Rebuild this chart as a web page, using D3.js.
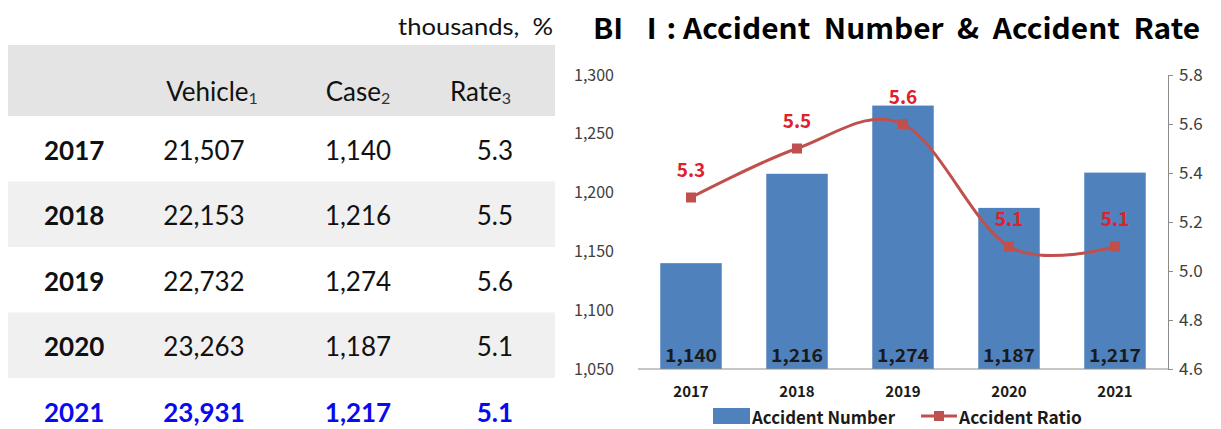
<!DOCTYPE html>
<html lang="en">
<head>
<meta charset="UTF-8">
<title>Accident Number & Accident Rate</title>
<script src="https://cdn.jsdelivr.net/npm/d3@7"></script>
<style>
    body{ margin:0; background:#fff; }
    .cell{ font-family: Lato, "Open Sans", sans-serif; font-size:26px; fill:#111; }
    .yr{ font-weight:bold; }
    .last{ fill:#0a0aee; font-weight:bold; }
    .tick text{ font-family:"Noto Sans CJK KR", "Noto Sans", sans-serif; }
</style>
</head>
<body>
<div id="root"></div>
<script>
    // ---- data ----
    const years = ["2017", "2018", "2019", "2020", "2021"]
    const vehicles = [21507, 22153, 22732, 23263, 23931]   // thousands
    const cases = [1140, 1216, 1274, 1187, 1217]
    const rates = [5.3, 5.5, 5.6, 5.1, 5.1]
    const leftTicks = [1050, 1100, 1150, 1200, 1250, 1300]
    const rightTicks = [4.6, 4.8, 5.0, 5.2, 5.4, 5.6, 5.8]
    const headers = [["Vehicle", "1"], ["Case", "2"], ["Rate", "3"]]

    const width = 1221, height = 429
    const svg = d3.select("#root").append("svg").attr("width", width).attr("height", height)

    // ---------- table (left) ----------
    const tbl = svg.append("g")
    const fmt = d3.format(",")
    const rowTop = 116, rowH = 65.5
    const colX = [44, 204, 358, 513]       // year left, vehicle mid, case mid, rate right
    const anchors = ["start", "middle", "middle", "end"]

    svg.append("text").attr("x", 553).attr("y", 35).attr("text-anchor", "end")
        .attr("textLength", 155).attr("lengthAdjust", "spacingAndGlyphs")
        .style("font-family", "Lato, sans-serif").style("font-size", "24px").style("white-space", "pre")
        .attr("fill", "#111")
        .text("thousands,  %")

    tbl.append("rect").attr("x", 8).attr("y", 45).attr("width", 547).attr("height", 71).attr("fill", "#e4e4e4")
    years.forEach((y, i) => {
        if (i % 2 == 1) {
            tbl.append("rect").attr("x", 8).attr("y", rowTop + i * rowH).attr("width", 547).attr("height", rowH).attr("fill", "#f0f0f0")
        }
    })

    const headX = [212, 358, 511]
    headers.forEach((h, i) => {
        const t = tbl.append("text").attr("class", "cell").attr("x", headX[i]).attr("y", 91)
            .attr("text-anchor", i == 2 ? "end" : "middle").attr("dominant-baseline", "central")
        t.append("tspan").text(h[0])
        t.append("tspan").attr("dy", 6).style("font-size", "16px").attr("fill", "#333").text(h[1])
    })

    years.forEach((y, i) => {
        const cy = rowTop + i * rowH + rowH / 2 + 1
        const vals = [y, fmt(vehicles[i]), fmt(cases[i]), rates[i].toFixed(1)]
        vals.forEach((v, j) => {
            tbl.append("text")
                .attr("class", "cell" + (j == 0 ? " yr" : "") + (i == years.length - 1 ? " last" : ""))
                .attr("x", colX[j]).attr("y", cy)
                .attr("text-anchor", anchors[j]).attr("dominant-baseline", "central")
                .text(v)
        })
    })

    // ---------- chart (right) ----------
    svg.append("text").attr("x", 593).attr("y", 39)
        .attr("textLength", 607).attr("lengthAdjust", "spacingAndGlyphs")
        .style("font-family", "'Noto Sans CJK KR', sans-serif").style("font-size", "28px").style("font-weight", "bold")
        .style("white-space", "pre").attr("fill", "#000")
        .text("BI  Ⅰ: Accident  Number  &  Accident  Rate")

    const plotL = 638, plotR = 1168, plotT = 75, plotB = 369

    const xScale = d3.scaleBand().domain(years).range([plotL, plotR]).paddingInner(0.42).paddingOuter(0.21)
    const yLeft = d3.scaleLinear().domain([1050, 1300]).range([plotB, plotT])
    const yRight = d3.scaleLinear().domain([4.6, 5.8]).range([plotB, plotT])

    // left axis: labels only
    const gl = svg.append("g").attr("transform", `translate(${plotL},0)`)
        .call(d3.axisLeft(yLeft).tickValues(leftTicks).tickFormat(d3.format(",")).tickSize(0).tickPadding(24))
    gl.select(".domain").remove()
    gl.selectAll("text").style("font-size", "16px").attr("fill", "#404040")

    // right axis
    const gr = svg.append("g").attr("transform", `translate(${plotR},0)`)
        .call(d3.axisRight(yRight).tickValues(rightTicks).tickFormat(d3.format(".1f")).tickSize(5).tickPadding(6).tickSizeOuter(0))
    gr.select(".domain").attr("stroke", "#8c8c8c")
    gr.selectAll(".tick line").attr("stroke", "#8c8c8c")
    gr.selectAll("text").style("font-size", "17px").attr("fill", "#404040")

    // bars
    svg.append("g").selectAll("rect").data(cases).enter().append("rect")
        .attr("x", (d, i) => xScale(years[i]))
        .attr("y", d => yLeft(d))
        .attr("width", xScale.bandwidth())
        .attr("height", d => plotB - yLeft(d))
        .attr("fill", "#4f81bd")

    svg.append("g").selectAll("text").data(cases).enter().append("text")
        .attr("x", (d, i) => xScale(years[i]) + xScale.bandwidth() / 2)
        .attr("y", plotB - 15)
        .attr("text-anchor", "middle").attr("dominant-baseline", "central")
        .attr("textLength", 52).attr("lengthAdjust", "spacingAndGlyphs")
        .style("font-family", "'Noto Sans CJK KR', sans-serif").style("font-size", "18px").style("font-weight", "bold")
        .attr("fill", "#1a1a1a")
        .text(d => fmt(d))

    // bottom axis line
    const gb = svg.append("g").attr("transform", `translate(0,${plotB})`)
        .call(d3.axisBottom(xScale).tickSize(0).tickPadding(17))
    gb.select(".domain").attr("stroke", "#8c8c8c").attr("d", `M${plotL},0H${plotR}`)
    gb.selectAll("text").style("font-size", "15px").style("font-weight", "bold").attr("fill", "#1a1a1a")

    // rate line
    const cx = i => xScale(years[i]) + xScale.bandwidth() / 2
    const line = d3.line().x((d, i) => cx(i)).y(d => yRight(d)).curve(d3.curveCardinal)
    svg.append("path").datum(rates).attr("d", line)
        .attr("fill", "none").attr("stroke", "#c0504d").attr("stroke-width", 3)
    svg.append("g").selectAll("rect").data(rates).enter().append("rect")
        .attr("x", (d, i) => cx(i) - 5).attr("y", d => yRight(d) - 5)
        .attr("width", 10).attr("height", 10).attr("fill", "#c0504d")
    svg.append("g").selectAll("text").data(rates).enter().append("text")
        .attr("x", (d, i) => cx(i)).attr("y", d => yRight(d) - 29)
        .attr("text-anchor", "middle").attr("dominant-baseline", "central")
        .style("font-family", "'Noto Sans CJK KR', sans-serif").style("font-size", "19px").style("font-weight", "bold")
        .attr("fill", "#e0202a")
        .text(d => d.toFixed(1))

    // legend
    const lg = svg.append("g").attr("transform", "translate(0,416)")
    lg.append("rect").attr("x", 713).attr("y", -8).attr("width", 37).attr("height", 16).attr("fill", "#4f81bd")
    lg.append("text").attr("x", 752).attr("y", 0).attr("dominant-baseline", "central")
        .attr("textLength", 143).attr("lengthAdjust", "spacingAndGlyphs")
        .style("font-family", "'Noto Sans CJK KR', sans-serif").style("font-size", "17px").style("font-weight", "bold")
        .attr("fill", "#1a1a1a").text("Accident Number")
    lg.append("line").attr("x1", 921).attr("x2", 957).attr("y1", 0).attr("y2", 0).attr("stroke", "#c0504d").attr("stroke-width", 3)
    lg.append("rect").attr("x", 934).attr("y", -5).attr("width", 10).attr("height", 10).attr("fill", "#c0504d")
    lg.append("text").attr("x", 959).attr("y", 0).attr("dominant-baseline", "central")
        .attr("textLength", 123).attr("lengthAdjust", "spacingAndGlyphs")
        .style("font-family", "'Noto Sans CJK KR', sans-serif").style("font-size", "17px").style("font-weight", "bold")
        .attr("fill", "#1a1a1a").text("Accident Ratio")
</script>
</body>
</html>
